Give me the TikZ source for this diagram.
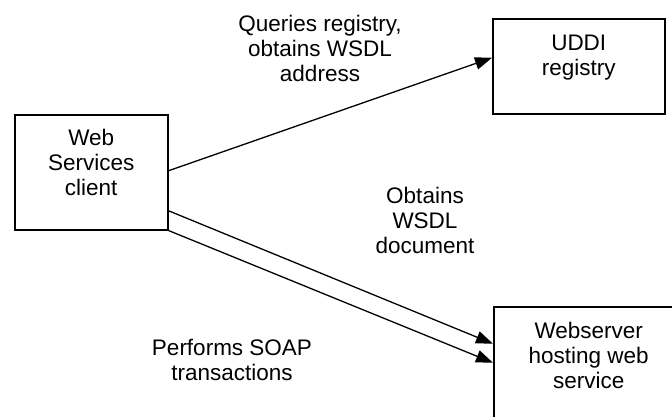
\documentclass[tikz,border=0pt]{standalone}
\usepackage{fontspec}
\setmainfont{Liberation Sans}
\usetikzlibrary{arrows.meta}
\tikzset{%
    txt/.style={font=\fontsize{22.5}{25}\selectfont, align=center, inner sep=0pt},
    blk/.style={txt, draw, line width=1.5pt, anchor=north west},
    arw/.style={line width=1.3pt, -{Triangle[length=17pt, width=12.5pt]}},
}
\begin{document}
\begin{tikzpicture}[x=1pt, y=-1pt]
    \useasboundingbox (0,0) rectangle (672,416);
    \clip (0,0) rectangle (672,416);
    \node [blk, minimum width=153pt, text height=80.5pt, text depth=34.5pt] (client) at (14,114) {Web\\Services\\client};
    \node [blk, minimum width=172pt, text height=56.5pt, text depth=38.5pt] (uddi) at (492,18) {UDDI\\registry};
    \node [blk, minimum width=190pt, text height=81.5pt, text depth=48.5pt] (web) at (493,306) {Webserver\\hosting web\\service};
    \node [txt] (query) at (320,48) {Queries registry,\\obtains WSDL\\address};
    \node [txt] (wsdl) at (425,220) {Obtains\\WSDL\\document};
    \node [txt] (soap) at (232,360) {Performs SOAP\\transactions};
    \draw [arw] ([yshift=1.5pt]client.east) -- ([yshift=8.5pt]uddi.west);
    \draw [arw] ([yshift=-38.5pt]client.east) -- ([yshift=28pt]web.west);
    \draw [arw] (client.south east) -- ([yshift=9pt]web.west);
\end{tikzpicture}
\end{document}
